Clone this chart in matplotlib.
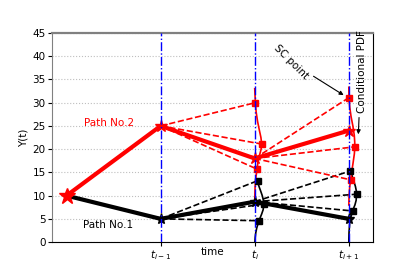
import matplotlib
matplotlib.use("Agg")
import matplotlib.pyplot as plt

# time steps and the two chosen paths
times = [0, 1, 2, 3]
tick_labels = ["$t_{i-1}$", "$t_i$", "$t_{i+1}$"]
path1 = [10, 5, 8.7, 5]
path2 = [10, 25, 18, 24]

# samples drawn at t_i and t_{i+1} (value, pdf offset)
red_ti_y = [30, 21.1, 15.7]
red_ti_off = [0.007, 0.074, 0.025]
black_ti_y = [13.2, 8.2, 4.6]
black_ti_off = [0.03, 0.096, 0.043]
red_ti1_y = [31.1, 20.5, 13.4]
red_ti1_off = [0.002, 0.064, 0.02]
black_ti1_y = [15.3, 10.3, 6.7]
black_ti1_off = [0.015, 0.082, 0.04]

# conditional pdf curves (value, offset from the time line)
red_pdf_ti_y = [33, 30, 28, 26, 24, 22.5, 21.1, 20, 19, 18, 17, 15.7, 14, 12, 9]
red_pdf_ti_off = [0, 0.007, 0.015, 0.03, 0.05, 0.066, 0.074, 0.068, 0.055, 0.042, 0.033, 0.025, 0.013, 0.004, 0]
black_pdf_ti_y = [13.5, 12, 11, 10, 9, 8.2, 7, 6, 5, 4, 3, 2, 1, 0]
black_pdf_ti_off = [0.025, 0.045, 0.063, 0.08, 0.092, 0.096, 0.09, 0.073, 0.053, 0.036, 0.021, 0.011, 0.005, 0.002]
red_pdf_ti1_y = [33.3, 31, 29, 27, 25, 23, 21.5, 20.5, 19, 17, 15, 13.4, 12, 10, 8]
red_pdf_ti1_off = [0, 0.002, 0.01, 0.024, 0.043, 0.058, 0.063, 0.064, 0.059, 0.045, 0.03, 0.02, 0.01, 0.003, 0]
black_pdf_ti1_y = [15.5, 14, 13, 12, 11, 10.3, 9, 8, 7, 6, 5, 4, 2, 0]
black_pdf_ti1_off = [0.018, 0.038, 0.055, 0.07, 0.08, 0.082, 0.078, 0.065, 0.045, 0.03, 0.018, 0.009, 0.002, 0]

fig = plt.figure(figsize=(4.15, 2.77), dpi=100)
ax = fig.add_axes([0.125, 0.126, 0.774, 0.755])
fs = 7.5


def branches(t, start, ys, offs, final, color):
    for y, o in zip(ys, offs):
        ax.plot([t - 1, t + o], [start, y], "--", color=color, lw=1.2, zorder=2)
    ax.plot([t - 1, t], [start, final], "--", color=color, lw=1.2, zorder=2)
    ax.plot([t + o for o in offs], ys, "s", color=color, ms=4.5, zorder=4)


def pdf(t, ys, offs, color):
    ax.plot([t + o for o in offs], ys, "-", color=color, lw=1.2, zorder=3)


# black path and its branches
branches(2, path1[1], black_ti_y, black_ti_off, path1[2], "k")
branches(3, path1[2], black_ti1_y, black_ti1_off, path1[3], "k")
pdf(2, black_pdf_ti_y, black_pdf_ti_off, "k")
pdf(3, black_pdf_ti1_y, black_pdf_ti1_off, "k")
ax.plot(times, path1, "-", color="k", lw=3, zorder=5)
ax.plot(times[1:], path1[1:], "*", color="k", ms=8, zorder=5)

# red path and its branches
branches(2, path2[1], red_ti_y, red_ti_off, path2[2], "r")
branches(3, path2[2], red_ti1_y, red_ti1_off, path2[3], "r")
pdf(2, red_pdf_ti_y, red_pdf_ti_off, "r")
pdf(3, red_pdf_ti1_y, red_pdf_ti1_off, "r")
ax.plot(times, path2, "-", color="r", lw=3, zorder=6)
ax.plot(times, path2, "*", color="r", ms=9, zorder=6)
ax.plot(times[0], path2[0], "*", color="r", ms=12, zorder=7)

for t in times[1:]:
    ax.axvline(t, color="b", ls="-.", lw=1.0, zorder=8)

ax.text(0.45, 25.7, "Path No.2", color="r", fontsize=fs, ha="center", va="center")
ax.text(0.44, 3.6, "Path No.1", color="k", fontsize=fs, ha="center", va="center")

ax.text(2.39, 38.8, "SC point", fontsize=fs, rotation=-45, ha="center", va="center")
ax.annotate("", xy=(2.97, 31.3), xytext=(2.6, 36),
            arrowprops=dict(arrowstyle="-|>", color="k", lw=0.8, mutation_scale=6))
ax.text(3.14, 36.6, "Conditional PDF", fontsize=fs, rotation=90, ha="center", va="center")
ax.annotate("", xy=(3.10, 22.6), xytext=(3.11, 27.4),
            arrowprops=dict(arrowstyle="-|>", color="k", lw=0.8, mutation_scale=6))

ax.set_xlim(-0.156, 3.258)
ax.set_ylim(0, 45)
ax.set_yticks(range(0, 46, 5))
ax.set_xticks(times[1:])
ax.set_xticklabels(tick_labels)
ax.tick_params(labelsize=fs, length=3, pad=1.5)
ax.set_xlabel("time", fontsize=fs, labelpad=-11)
ax.set_ylabel("Y(t)", fontsize=fs, labelpad=3)
ax.yaxis.grid(True, ls=":", color="0.75", lw=0.8)

ax.spines["left"].set_color("0.5")
ax.spines["top"].set_color("0.5")
ax.spines["top"].set_linewidth(1.6)

fig.savefig("out.png", dpi=100)
